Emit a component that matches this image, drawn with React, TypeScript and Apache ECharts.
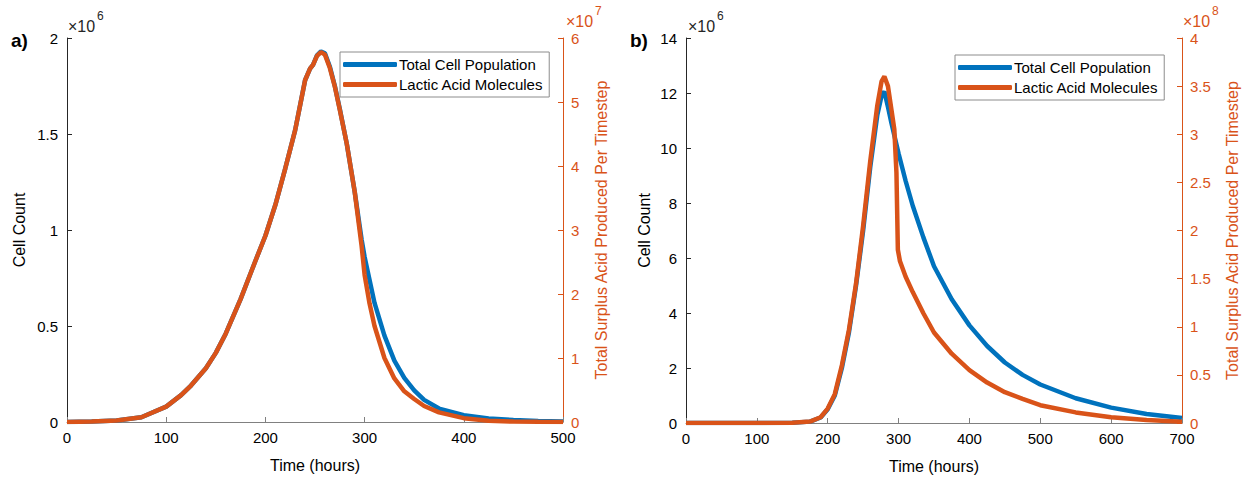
import React, { useEffect, useRef } from "react";
import * as echarts from "echarts";

const BLUE = "#0072BD";
const ORANGE = "#D95319";
const AXIS = "#262626";
const FONT = "'Liberation Sans', Arial, sans-serif";

const legendNames = ["Total Cell Population", "Lactic Acid Molecules"];

// Panel a
const aTimes = [0, 25, 50, 75, 100, 115, 125, 140, 150, 160, 175, 190, 200, 210, 220, 225, 230, 235, 240, 245, 248, 252, 256, 260, 265, 270, 275, 282, 290, 297, 300, 305, 310, 320, 330, 340, 350, 360, 375, 400, 425, 450, 475, 500];
const aPopulation = [0, 0.002, 0.008, 0.025, 0.08, 0.14, 0.19, 0.28, 0.36, 0.46, 0.64, 0.84, 0.97, 1.13, 1.32, 1.42, 1.52, 1.65, 1.78, 1.84, 1.86, 1.91, 1.93, 1.92, 1.85, 1.75, 1.63, 1.45, 1.2, 0.95, 0.86, 0.74, 0.62, 0.45, 0.32, 0.23, 0.165, 0.115, 0.07, 0.035, 0.018, 0.01, 0.005, 0.002]; // x1e6
const aAcid = [0, 0.006, 0.024, 0.075, 0.24, 0.42, 0.57, 0.84, 1.08, 1.38, 1.92, 2.52, 2.91, 3.39, 3.96, 4.26, 4.56, 4.95, 5.34, 5.52, 5.58, 5.72, 5.78, 5.74, 5.53, 5.24, 4.88, 4.35, 3.6, 2.75, 2.3, 1.85, 1.5, 1.0, 0.68, 0.48, 0.36, 0.25, 0.15, 0.06, 0.02, 0.006, 0.002, 0]; // x1e7

// Panel b
const bTimes = [0, 100, 150, 175, 190, 200, 210, 220, 230, 240, 250, 260, 270, 276, 280, 285, 290, 300, 310, 320, 335, 350, 375, 400, 425, 450, 475, 500, 550, 600, 650, 700];
const bPopulation = [0, 0, 0.01, 0.05, 0.2, 0.5, 1.0, 2.0, 3.3, 5.0, 7.0, 9.3, 11.2, 11.9, 12.05, 11.5, 10.9, 9.8, 8.8, 7.9, 6.75, 5.7, 4.5, 3.55, 2.8, 2.2, 1.75, 1.4, 0.9, 0.56, 0.33, 0.18]; // x1e6
const bAcidTimes = [0, 100, 150, 175, 190, 200, 210, 220, 230, 240, 250, 260, 270, 276, 280, 285, 290, 294, 297, 299, 302, 310, 320, 335, 350, 375, 400, 425, 450, 475, 500, 550, 600, 650, 700];
const bAcid = [0, 0, 0.003, 0.015, 0.06, 0.15, 0.3, 0.6, 0.97, 1.45, 2.05, 2.72, 3.3, 3.55, 3.6, 3.5, 3.25, 3.05, 2.6, 1.8, 1.68, 1.52, 1.36, 1.14, 0.94, 0.72, 0.55, 0.42, 0.32, 0.25, 0.185, 0.11, 0.06, 0.03, 0.013]; // x1e8

const zip = (t: number[], v: number[], s: number) => t.map((x, i) => [x, v[i] * s]);

function leftAxis(gridIndex: number, max: number, interval: number, scale: number, gap: number) {
  return {
    type: "value", gridIndex, position: "left", min: 0, max, interval,
    name: "Cell Count", nameLocation: "middle", nameGap: gap,
    nameTextStyle: { fontSize: 16, color: "#000", fontFamily: FONT },
    axisLine: { show: true, lineStyle: { color: AXIS, width: 1 } },
    axisTick: { show: true, inside: true, length: 5, lineStyle: { color: AXIS } },
    axisLabel: { formatter: (v: number) => String(+(v / scale).toFixed(2)), fontSize: 15, color: "#000", margin: 9, fontFamily: FONT },
    splitLine: { show: false },
  };
}
function rightAxis(gridIndex: number, max: number, interval: number, scale: number, gap: number) {
  return {
    type: "value", gridIndex, position: "right", min: 0, max, interval,
    name: "Total Surplus Acid Produced Per Timestep", nameLocation: "middle", nameGap: gap, nameRotate: 90,
    nameTextStyle: { fontSize: 16, color: ORANGE, fontFamily: FONT },
    axisLine: { show: true, lineStyle: { color: ORANGE, width: 1 } },
    axisTick: { show: true, inside: true, length: 5, lineStyle: { color: ORANGE } },
    axisLabel: { formatter: (v: number) => String(+(v / scale).toFixed(2)), fontSize: 15, color: ORANGE, margin: 8, fontFamily: FONT },
    splitLine: { show: false },
  };
}
function xAxis(gridIndex: number, max: number) {
  return {
    type: "value", gridIndex, min: 0, max, interval: 100,
    name: "Time (hours)", nameLocation: "middle", nameGap: 35,
    nameTextStyle: { fontSize: 16, color: "#000", fontFamily: FONT },
    axisLine: { show: true, lineStyle: { color: "#808080", width: 1 } },
    axisTick: { show: true, inside: true, length: 5, lineStyle: { color: "#808080" } },
    axisLabel: { fontSize: 15, color: "#000", margin: 8, fontFamily: FONT },
    splitLine: { show: false },
  };
}
function legend(left: number, top: number) {
  return {
    orient: "vertical", left, top, data: legendNames,
    backgroundColor: "#fff", borderColor: "#8c8c8c", borderWidth: 1,
    padding: [5, 6, 5, 3], itemGap: 5, itemWidth: 54, itemHeight: 5, icon: "roundRect",
    textStyle: { fontSize: 15, color: "#000", fontFamily: FONT, padding: [0, 0, 0, -3] },
    selectedMode: false,
  };
}
function txt(x: number, y: number, text: string, size: number, fill: string, bold = false) {
  return { type: "text", x, y, style: { text, fontSize: size, fill, fontFamily: FONT, fontWeight: bold ? "bold" : "normal" } };
}

export default function App() {
  const ref = useRef<HTMLDivElement>(null);
  useEffect(() => {
    const chart = echarts.init(ref.current!, undefined, { renderer: "svg" });
    const line = (name: string, xi: number, yi: number, data: number[][], color: string) => ({
      type: "line", name, xAxisIndex: xi, yAxisIndex: yi, data, showSymbol: false, symbol: "none",
      lineStyle: { color, width: 4.5 }, itemStyle: { color }, smooth: false,
    });
    chart.setOption({
      animation: false,
      backgroundColor: "#fff",
      grid: [
        { left: 67, top: 38, width: 496, height: 384 },
        { left: 686, top: 38, width: 496, height: 386 },
      ],
      xAxis: [xAxis(0, 500), xAxis(1, 700)],
      yAxis: [
        leftAxis(0, 2e6, 5e5, 1e6, 40),
        rightAxis(0, 6e7, 1e7, 1e7, 30),
        leftAxis(1, 14e6, 2e6, 1e6, 34),
        rightAxis(1, 4e8, 5e7, 1e8, 42),
      ],
      legend: [legend(340, 52), legend(955, 55)],
      series: [
        line(legendNames[0], 0, 0, zip(aTimes, aPopulation, 1e6), BLUE),
        line(legendNames[1], 0, 1, zip(aTimes, aAcid, 1e7), ORANGE),
        line(legendNames[0], 1, 2, zip(bTimes, bPopulation, 1e6), BLUE),
        line(legendNames[1], 1, 3, zip(bAcidTimes, bAcid, 1e8), ORANGE),
      ],
      graphic: [
        txt(11, 31, "a)", 19, "#000", true),
        txt(630, 31, "b)", 19, "#000", true),
        txt(68, 18, "×10", 16, AXIS),
        txt(97, 10, "6", 12, AXIS),
        txt(566, 13, "×10", 16, ORANGE),
        txt(595, 5, "7", 12, ORANGE),
        txt(688, 18, "×10", 16, AXIS),
        txt(717, 10, "6", 12, AXIS),
        txt(1183, 13, "×10", 16, ORANGE),
        txt(1212, 5, "8", 12, ORANGE),
      ],
    });
    return () => chart.dispose();
  }, []);
  return <div ref={ref} style={{ position: "fixed", left: 0, top: 0, width: 1245, height: 479, background: "#fff" }} />;
}
